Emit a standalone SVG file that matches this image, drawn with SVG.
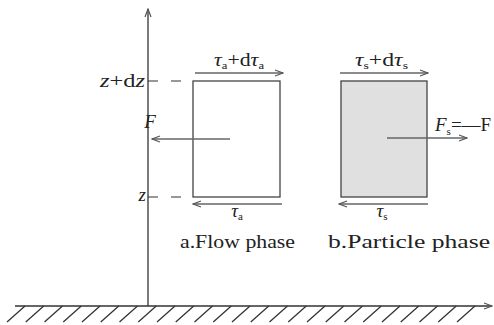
<svg xmlns="http://www.w3.org/2000/svg" width="494" height="325" viewBox="0 0 494 325">
<style>
.t{font-family:"Liberation Serif","DejaVu Serif","Times New Roman",serif;font-size:19px;fill:#222}
.i{font-style:italic}
.sub{font-size:11px}
.ln{stroke:#333;stroke-width:1.3;fill:none}
.ar{stroke:#666;stroke-width:1.6;fill:none}
.dash{stroke:#333;stroke-width:1.2;stroke-dasharray:10 13;fill:none}
.box{stroke:#444;stroke-width:1.3}
</style>
<defs>
<marker id="h" viewBox="0 0 10 10" refX="9" refY="5" markerWidth="10" markerHeight="10" markerUnits="userSpaceOnUse" orient="auto">
<path d="M1,2 L9,5 L1,8" fill="none" stroke="#555" stroke-width="1.2"/>
</marker>
</defs>
<g id="ground">
<line class="ln" x1="15" y1="306" x2="492" y2="306" marker-end="url(#h)"/>
<path class="ln" stroke-width="1" d="M25,306 l-18,16 M43.75,306 l-18,16 M62.5,306 l-18,16 M81.25,306 l-18,16 M100,306 l-18,16 M118.75,306 l-18,16 M137.5,306 l-18,16 M156.25,306 l-18,16 M175,306 l-18,16 M193.75,306 l-18,16 M212.5,306 l-18,16 M231.25,306 l-18,16 M250,306 l-18,16 M268.75,306 l-18,16 M287.5,306 l-18,16 M306.25,306 l-18,16 M325,306 l-18,16 M343.75,306 l-18,16 M362.5,306 l-18,16 M381.25,306 l-18,16 M400,306 l-18,16 M418.75,306 l-18,16 M437.5,306 l-18,16 M456.25,306 l-18,16 M475,306 l-18,16"/>
</g>
<g id="axis">
<line class="ln" x1="148" y1="306" x2="148" y2="9" marker-end="url(#h)"/>
<text class="t" x="100" y="87" textLength="45" lengthAdjust="spacingAndGlyphs"><tspan class="i">z</tspan>+d<tspan class="i">z</tspan></text>
<text class="t i" x="146" y="201" text-anchor="end">z</text>
</g>
<g id="flow-phase">
<rect class="box" x="193" y="81" width="87" height="116" fill="#ffffff"/>
<text class="t" x="214" y="66" textLength="50" lengthAdjust="spacingAndGlyphs"><tspan class="i">τ</tspan><tspan class="sub" dy="3">a</tspan><tspan dy="-3">+d</tspan><tspan class="i">τ</tspan><tspan class="sub" dy="3">a</tspan></text>
<text class="t" x="237" y="217" text-anchor="middle"><tspan class="i">τ</tspan><tspan class="sub" dy="3">a</tspan></text>
<text class="t i" x="150" y="128" text-anchor="middle">F</text>
<text class="t" x="180" y="248" textLength="115" lengthAdjust="spacingAndGlyphs">a.Flow phase</text>
</g>
<g id="particle-phase">
<rect class="box" x="341" y="81" width="86" height="116" fill="#e0e0e0"/>
<text class="t" x="355" y="66" textLength="53" lengthAdjust="spacingAndGlyphs"><tspan class="i">τ</tspan><tspan class="sub" dy="3">s</tspan><tspan dy="-3">+d</tspan><tspan class="i">τ</tspan><tspan class="sub" dy="3">s</tspan></text>
<text class="t" x="382" y="217" text-anchor="middle"><tspan class="i">τ</tspan><tspan class="sub" dy="3">s</tspan></text>
<text class="t" x="435" y="131"><tspan class="i">F</tspan><tspan class="sub" dy="4">s</tspan><tspan dy="-4">=—F</tspan></text>
<text class="t" x="328" y="248" textLength="162" lengthAdjust="spacingAndGlyphs">b.Particle phase</text>
</g>
<g id="connectors">
<line class="dash" x1="148" y1="81" x2="193" y2="81"/>
<line class="dash" x1="148" y1="197" x2="193" y2="197"/>
<line class="ar" x1="195" y1="73" x2="283" y2="73" marker-end="url(#h)"/>
<line class="ar" x1="282" y1="204" x2="193" y2="204" marker-end="url(#h)"/>
<line class="ar" x1="230" y1="139" x2="152" y2="139" marker-end="url(#h)"/>
<line class="ar" x1="340" y1="73" x2="428" y2="73" marker-end="url(#h)"/>
<line class="ar" x1="428" y1="204" x2="339" y2="204" marker-end="url(#h)"/>
<line class="ar" x1="387" y1="138" x2="467" y2="138" marker-end="url(#h)"/>
</g>
</svg>
